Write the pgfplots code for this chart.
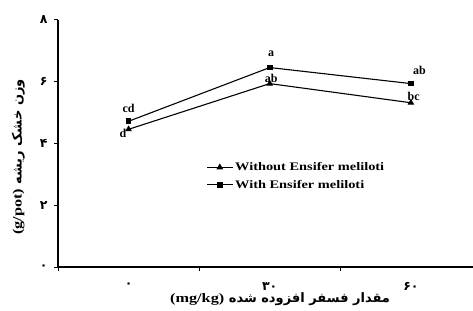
\documentclass[border=0pt]{standalone}
\usepackage{fontspec}
\usepackage{graphicx}
\usepackage{pgfplots}
\pgfplotsset{compat=1.18}
\TeXXeTstate=1
\setmainfont{Liberation Serif}
\newfontfamily\arabicfont[Script=Arabic]{DejaVu Sans}
\newcommand\wide[1]{\scalebox{1.25}[1]{\bfseries #1}}
\begin{document}
\begin{tikzpicture}
\begin{axis}[
  scale only axis,
  width=415pt, height=247pt,
  xmin=0, xmax=2.94, ymin=0, ymax=8,
  axis lines=left,
  axis line style={-, line width=1.6pt},
  xtick={0,1,2}, xticklabels={},
  extra x ticks={0.5,1.5,2.5},
  extra x tick labels={۰,۳۰,۶۰},
  extra x tick style={major tick length=0pt, xticklabel style={yshift=-12pt}},
  xticklabel style={font=\arabicfont\bfseries\fontsize{12.5}{13}\selectfont},
  ytick={0,2,4,6,8},
  yticklabels={۰,۲,۴,۶,۸},
  yticklabel style={font=\arabicfont\bfseries\fontsize{12.5}{13}\selectfont, xshift=-3pt},
  tick style={black, line width=1pt},
  tick align=outside,
  major tick length=4pt,
  xlabel={\arabicfont\bfseries\beginR مقدار فسفر افزوده شده \beginL{\rmfamily\wide{(mg/kg)}}\endL\endR},
  xlabel style={font=\fontsize{13}{14}\selectfont, at={(axis description cs:0.535,-0.13)}, anchor=center},
  ylabel={\arabicfont\bfseries\beginR وزن خشک ریشه \beginL{\rmfamily\wide{(g/pot)}}\endL\endR},
  ylabel style={font=\fontsize{13}{14}\selectfont, at={(axis description cs:-0.096,0.445)}, anchor=center},
  legend style={at={(0.35,0.44)}, anchor=north west, draw=none, fill=none,
    font=\bfseries\fontsize{11.5}{12}\selectfont, row sep=4pt},
  legend cell align=left,
  legend image code/.code={\draw[mark repeat=2,mark phase=2] plot coordinates {(0cm,0cm)(0.45cm,0cm)(0.9cm,0cm)};},
  clip=false,
]
\addplot[black, line width=1.1pt, mark=triangle*, mark size=2.8pt, mark options={solid}]
  coordinates {(0.5,4.46) (1.5,5.94) (2.5,5.32)};
\addlegendentry{\wide{Without Ensifer meliloti}}
\addplot[black, line width=1.1pt, mark=square*, mark size=2.3pt, mark options={solid}]
  coordinates {(0.5,4.72) (1.5,6.46) (2.5,5.94)};
\addlegendentry{\wide{With Ensifer meliloti}}
\begin{scope}[font=\bfseries\fontsize{12}{13}\selectfont]
\node at (axis cs:0.5,5.14) {cd};
\node at (axis cs:0.46,4.33) {d};
\node at (axis cs:1.51,6.91) {a};
\node at (axis cs:1.51,6.10) {ab};
\node at (axis cs:2.56,6.36) {ab};
\node at (axis cs:2.52,5.52) {bc};
\end{scope}
\end{axis}
\pgfresetboundingbox
\path[use as bounding box] ([xshift=-58pt,yshift=-43pt]current axis.south west) rectangle ([yshift=20pt]current axis.north east);
\end{tikzpicture}
\end{document}
